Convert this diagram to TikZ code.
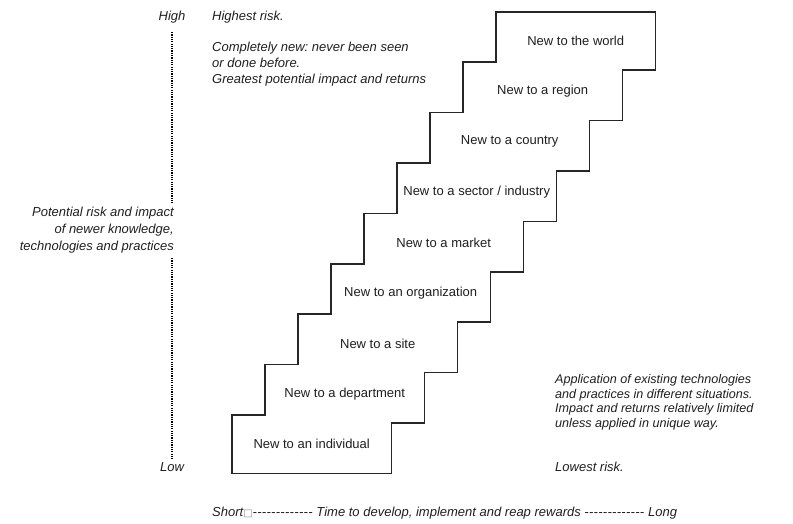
\documentclass[tikz,border=0pt]{standalone}
\usepackage{fontspec}
\setmainfont{Liberation Sans}
\newfontfamily\symfont{DejaVu Sans}
\usetikzlibrary{calc}
\pgfdeclarelayer{lines}
\pgfdeclarelayer{fills}
\pgfsetlayers{lines,fills,main}
\newcommand\dd{-\kern0.3pt}
\frenchspacing
\begin{document}
\begin{tikzpicture}[x=1pt,y=-1pt,
  stepbox/.style={minimum width=159pt, minimum height=58pt, inner sep=0pt,
    font=\fontsize{13}{15}\selectfont, text=black!88},
  lab/.style={font=\fontsize{13}{15.5}\selectfont\itshape, text=black!88, inner sep=0pt},
  dotline/.style={line width=1.5pt, dash pattern=on 1.2pt off 1.1pt, black}]
\useasboundingbox (0,0) rectangle (793,523);

\foreach \t [count=\i from 0] in {New to an individual, New to a department, New to a site,
  New to an organization, New to a market, New to a sector / industry, New to a country,
  New to a region, New to the world}{
  \node[stepbox, anchor=north west] (b\i) at ({232+33*\i},{415-50.4*\i}) {\t};
  \begin{pgfonlayer}{lines}
    \draw[line width=1.5pt, black!85] (b\i.south west) rectangle (b\i.north east);
  \end{pgfonlayer}
  \begin{pgfonlayer}{fills}
    \fill[white] ($(b\i.south west)+(0.75,-0.75)$) rectangle ($(b\i.north east)+(-0.75,0.75)$);
  \end{pgfonlayer}
}

\node[lab] (high) at (172,17) {High};
\node[lab] (low) at (172,467) {Low};
\node[lab, align=right, anchor=east, font=\fontsize{13}{17}\selectfont\itshape] (axis) at (174,230) {Potential risk and impact\\of newer knowledge,\\technologies and practices};
\coordinate (d1) at (172,32);
\coordinate (d2) at (172,203);
\coordinate (d3) at (172,258);
\coordinate (d4) at (172,460);
\draw[dotline] (d1) -- (d2);
\draw[dotline] (d3) -- (d4);

\node[lab, anchor=west] (hr) at (212,17) {Highest risk.};
\node[lab, anchor=north west, align=left, font=\fontsize{13}{16}\selectfont\itshape] (cn) at (212,42) {Completely new: never been seen\\or done before.\\Greatest potential impact and returns};

\node[lab, anchor=north west, align=left, font=\fontsize{12.6}{14.7}\selectfont\itshape] (app) at (555,374) {Application of existing technologies\\and practices in different situations.\\Impact and returns relatively limited\\unless applied in unique way.};
\node[lab, anchor=west] (lr) at (555,467) {Lowest risk.};

\node[lab, anchor=west] (time) at (212,513) {Short{\upshape\symfont\color{black!45}\fontsize{10}{10}\selectfont □}\dd\dd\dd\dd\dd\dd\dd\dd\dd\dd\dd\dd\dd\ Time to develop, implement and reap rewards \dd\dd\dd\dd\dd\dd\dd\dd\dd\dd\dd\dd\dd\ Long};
\end{tikzpicture}
\end{document}
